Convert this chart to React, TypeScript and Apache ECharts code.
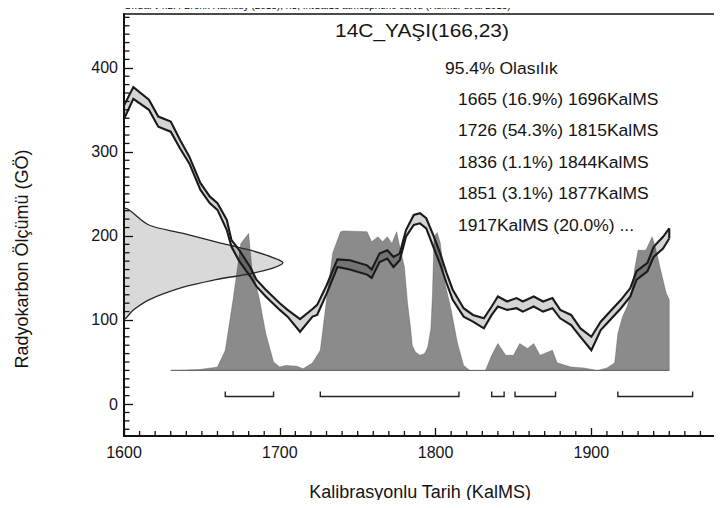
import React, { useEffect, useRef } from "react";
import * as echarts from "echarts";

// IntCal13 calibration curve band (calendar year, upper, lower radiocarbon age)
const curveYears = [1600, 1606, 1616, 1622, 1630, 1636, 1642, 1649, 1655, 1660, 1666, 1669, 1674, 1681, 1685, 1691, 1700, 1705, 1713, 1721, 1724, 1730, 1737, 1745, 1756, 1759, 1764, 1769, 1773, 1777, 1781, 1786, 1790, 1794, 1799, 1803, 1807, 1811, 1818, 1824, 1831, 1836, 1840, 1846, 1852, 1856, 1863, 1869, 1875, 1880, 1887, 1893, 1900, 1906, 1912, 1919, 1925, 1929, 1936, 1940, 1946, 1950];
const curveUpper = [355, 377, 362, 342, 336, 314, 294, 263, 247, 239, 219, 195, 183, 163, 148, 136, 120, 112, 101, 113, 118, 141, 172, 171, 165, 160, 179, 183, 175, 179, 207, 225, 227, 221, 199, 179, 156, 136, 114, 106, 102, 116, 128, 122, 126, 122, 128, 122, 126, 112, 106, 90, 80, 98, 110, 124, 138, 158, 168, 187, 199, 209];
const curveLower = [339, 363, 350, 330, 324, 304, 286, 255, 239, 231, 207, 187, 170, 152, 140, 128, 112, 104, 86, 104, 106, 131, 163, 160, 154, 150, 169, 173, 163, 171, 199, 213, 215, 209, 185, 166, 144, 124, 104, 98, 90, 106, 116, 112, 114, 110, 116, 110, 114, 102, 94, 80, 64, 88, 100, 114, 128, 148, 158, 175, 185, 197];

// Radiocarbon likelihood 166 ± 23 (age, extent in years to the right of the axis)
const likAges = [231, 213, 203, 193, 183, 174, 168, 162, 155, 148, 139, 124, 112, 102];
const likWidths = [0, 16, 38, 59, 81, 96, 102, 96, 81, 59, 38, 16, 6, 0];

// Calibrated posterior distribution (calendar year, drawn height on the age scale)
const postBase = 40;
const postYears = [1630, 1648, 1656, 1660, 1665, 1670, 1675, 1680, 1682, 1687, 1691, 1696, 1700, 1704, 1711, 1715, 1721, 1726, 1730, 1734, 1739, 1741, 1756, 1759, 1763, 1766, 1769, 1772, 1775, 1777, 1780, 1782, 1784, 1785, 1787, 1790, 1793, 1795, 1797, 1798, 1799, 1801, 1803, 1806, 1810, 1814, 1818, 1822, 1832, 1836, 1840, 1845, 1850, 1854, 1859, 1863, 1867, 1875, 1878, 1887, 1895, 1904, 1910, 1915, 1917, 1920, 1923, 1926, 1928, 1930, 1935, 1939, 1941, 1944, 1948, 1950, 1950];
const postValues = [40, 41, 43, 44, 64, 124, 191, 203, 163, 124, 84, 50, 44, 46, 45, 42, 49, 64, 124, 180, 205, 206, 205, 193, 199, 193, 199, 191, 205, 187, 163, 120, 90, 70, 62, 58, 60, 68, 90, 130, 199, 204, 192, 144, 112, 73, 46, 40, 40, 58, 72, 58, 58, 72, 66, 72, 58, 64, 49, 44, 43, 40, 43, 49, 84, 104, 116, 136, 163, 183, 183, 199, 187, 163, 132, 124, 40];

// 95.4% ranges
const rangeStart = [1665, 1726, 1836, 1851, 1917];
const rangeEnd = [1696, 1815, 1844, 1877, 1965];

// Axis ticks
const yMajorTicks = [0, 100, 200, 300, 400];
const yMinorTicks = [-30, -20, -10, 10, 20, 30, 40, 50, 60, 70, 80, 90, 110, 120, 130, 140, 150, 160, 170, 180, 190, 210, 220, 230, 240, 250, 260, 270, 280, 290, 310, 320, 330, 340, 350, 360, 370, 380, 390, 410, 420, 430, 440, 450, 460];
const xMinorTicks = [1610, 1620, 1630, 1640, 1650, 1660, 1670, 1680, 1690, 1710, 1720, 1730, 1740, 1750, 1760, 1770, 1780, 1790, 1810, 1820, 1830, 1840, 1850, 1860, 1870, 1880, 1890, 1910, 1920, 1930, 1940, 1950, 1960, 1970];

const titleText = "14C_YAŞI(166,23)";
const headerText = "OxCal v4.2.4 Bronk Ramsey (2013); r:5; IntCal13 atmospheric curve (Reimer et al 2013)";
const legendHead = "95.4% Olasılık";
const legendLines = [
  "1665 (16.9%) 1696KalMS",
  "1726 (54.3%) 1815KalMS",
  "1836 (1.1%) 1844KalMS",
  "1851 (3.1%) 1877KalMS",
  "1917KalMS (20.0%) ...",
];
const xName = "Kalibrasyonlu Tarih (KalMS)";
const yName = "Radyokarbon Ölçümü (GÖ)";

const FONT = "Liberation Sans, Arial, Helvetica, sans-serif";
const TXT = "#141414";
const X_MIN = 1600;
const X_MAX = 1980;
const Y_MIN = -38;
const Y_MAX = 464;

export default function App() {
  const ref = useRef<HTMLDivElement>(null);
  useEffect(() => {
    if (!ref.current) return;
    const chart = echarts.init(ref.current, null, { renderer: "svg" });

    const bandPts = curveYears.map((y, i) => [y, curveUpper[i]]);
    const bandLow = curveYears.map((y, i) => [y, curveLower[i]]);
    const likPts = likAges.map((a, i) => [X_MIN + likWidths[i], a]);
    const postPts = postYears.map((y, i) => [y, postValues[i]]);

    const legendGraphics: any[] = [
      {
        type: "text",
        x: 445,
        y: 68,
        scaleX: 1.03,
        style: { text: legendHead, fontSize: 17, fontFamily: FONT, fill: TXT, verticalAlign: "middle" },
      },
      ...legendLines.map((t, i) => ({
        type: "text",
        x: 458,
        y: 99 + i * 31.5,
        scaleX: 1.03,
        style: { text: t, fontSize: 17, fontFamily: FONT, fill: TXT, verticalAlign: "middle" },
      })),
    ];

    chart.setOption({
      animation: false,
      backgroundColor: "#ffffff",
      grid: {
        left: 124,
        top: 14,
        right: 6,
        bottom: 72,
        show: true,
        borderColor: "#111",
        borderWidth: 1.5,
        backgroundColor: "transparent",
      },
      xAxis: [
        {
          type: "value",
          min: X_MIN,
          max: X_MAX,
          interval: 100,
          axisLine: { show: true, onZero: false, lineStyle: { color: "#111", width: 2 } },
          axisTick: { show: true, inside: true, length: 8, lineStyle: { color: "#111", width: 1.3 } },
          splitLine: { show: false },
          axisLabel: {
            showMaxLabel: false,
            fontSize: 16,
            fontFamily: FONT,
            color: TXT,
            margin: 8,
            formatter: (v: number) => String(v),
          },
        },
      ],
      yAxis: [
        {
          type: "value",
          min: Y_MIN,
          max: Y_MAX,
          splitLine: { show: false },
          axisLine: { show: true, onZero: false, lineStyle: { color: "#111", width: 2 } },
          axisTick: { show: true, inside: true, length: 9, customValues: yMajorTicks, lineStyle: { color: "#111", width: 1.3 } },
          axisLabel: {
            customValues: yMajorTicks,
            fontSize: 16,
            fontFamily: FONT,
            color: TXT,
            margin: 6,
            formatter: (v: number) => String(v),
          },
        },
      ],
      graphic: [
        {
          type: "text",
          x: 124,
          y: 6,
          z: 100,
          scaleX: 1.1,
          style: { text: headerText, fontSize: 9, fontFamily: FONT, fill: "#000", verticalAlign: "middle" },
        },
        {
          type: "text",
          x: 422,
          y: 30,
          scaleX: 1.1,
          style: { text: titleText, fontSize: 19, fontFamily: FONT, fill: TXT, align: "center", verticalAlign: "middle" },
        },
        ...legendGraphics,
        {
          type: "text",
          x: 420,
          y: 492,
          style: { text: xName, fontSize: 18, fontFamily: FONT, fill: TXT, align: "center", verticalAlign: "middle" },
        },
        {
          type: "text",
          x: 22,
          y: 259,
          rotation: Math.PI / 2,
          style: { text: yName, fontSize: 18, fontFamily: FONT, fill: TXT, align: "center", verticalAlign: "middle" },
        },
      ],
      series: [
        {
          type: "custom",
          name: "likelihood",
          coordinateSystem: "cartesian2d",
          z: 2,
          clip: true,
          data: [[X_MIN, 166]],
          renderItem: (_p: any, api: any) => ({
            type: "polygon",
            shape: { points: likPts.map((p) => api.coord(p)), smooth: 0.35 },
            style: { fill: "rgba(0,0,0,0.15)", stroke: "#262626", lineWidth: 1.3 },
          }),
        },
        {
          type: "custom",
          name: "posterior",
          coordinateSystem: "cartesian2d",
          z: 3,
          clip: true,
          data: [[1630, postBase]],
          renderItem: (_p: any, api: any) => ({
            type: "group",
            children: [
              {
                type: "polygon",
                shape: { points: postPts.map((p) => api.coord(p)) },
                style: { fill: "rgba(55,55,55,0.58)", stroke: "rgba(55,55,55,0.5)", lineWidth: 0.6 },
              },
              {
                type: "line",
                shape: (() => {
                  const a = api.coord([postYears[0], postBase]);
                  const b = api.coord([postYears[postYears.length - 1], postBase]);
                  return { x1: a[0], y1: a[1], x2: b[0], y2: b[1] };
                })(),
                style: { stroke: "#666", lineWidth: 1 },
              },
            ],
          }),
        },
        {
          type: "custom",
          name: "curve",
          coordinateSystem: "cartesian2d",
          z: 4,
          clip: true,
          data: [[X_MIN, 350]],
          renderItem: (_p: any, api: any) => {
            const up = bandPts.map((p) => api.coord(p));
            const lo = bandLow.map((p) => api.coord(p));
            return {
              type: "group",
              children: [
                {
                  type: "polygon",
                  shape: { points: up.concat(lo.slice().reverse()) },
                  style: { fill: "rgba(0,0,0,0.17)", stroke: "none" },
                },
                {
                  type: "polyline",
                  shape: { points: up },
                  style: { fill: "none", stroke: "#1a1a1a", lineWidth: 2.1 },
                },
                {
                  type: "polyline",
                  shape: { points: lo },
                  style: { fill: "none", stroke: "#1a1a1a", lineWidth: 2.1 },
                },
                {
                  type: "line",
                  shape: { x1: up[up.length - 1][0], y1: up[up.length - 1][1], x2: lo[lo.length - 1][0], y2: lo[lo.length - 1][1] },
                  style: { stroke: "#1a1a1a", lineWidth: 2.1 },
                },
              ],
            };
          },
        },
        {
          type: "custom",
          name: "ranges",
          coordinateSystem: "cartesian2d",
          z: 5,
          clip: true,
          encode: { x: [0, 1], y: 2 },
          data: rangeStart.map((s, i) => [s, rangeEnd[i], 9]),
          renderItem: (_p: any, api: any) => {
            const s = api.value(0);
            const e = api.value(1);
            const lvl = api.value(2);
            const pts = [
              api.coord([s, lvl + 6]),
              api.coord([s, lvl]),
              api.coord([e, lvl]),
              api.coord([e, lvl + 6]),
            ];
            return {
              type: "polyline",
              shape: { points: pts },
              style: { fill: "none", stroke: "#222", lineWidth: 1.4 },
            };
          },
        },
        {
          type: "custom",
          name: "yMinorTicks",
          coordinateSystem: "cartesian2d",
          z: 6,
          clip: false,
          encode: { x: 0, y: 1 },
          data: yMinorTicks.map((v) => [X_MIN, v]),
          renderItem: (_p: any, api: any) => {
            const p = api.coord([api.value(0), api.value(1)]);
            return {
              type: "polyline",
              shape: { points: [[p[0], p[1]], [p[0] + 5.5, p[1]]] },
              style: { fill: "none", stroke: "#111", lineWidth: 1.3 },
            };
          },
        },
        {
          type: "custom",
          name: "xMinorTicks",
          coordinateSystem: "cartesian2d",
          z: 6,
          clip: false,
          encode: { x: 0, y: 1 },
          data: xMinorTicks.map((v) => [v, Y_MIN]),
          renderItem: (_p: any, api: any) => {
            const p = api.coord([api.value(0), api.value(1)]);
            return {
              type: "polyline",
              shape: { points: [[p[0], p[1]], [p[0], p[1] - 5]] },
              style: { fill: "none", stroke: "#111", lineWidth: 1.3 },
            };
          },
        },
      ],
    });
    return () => chart.dispose();
  }, []);
  return <div ref={ref} style={{ width: 722, height: 508, margin: -8 }} />;
}
